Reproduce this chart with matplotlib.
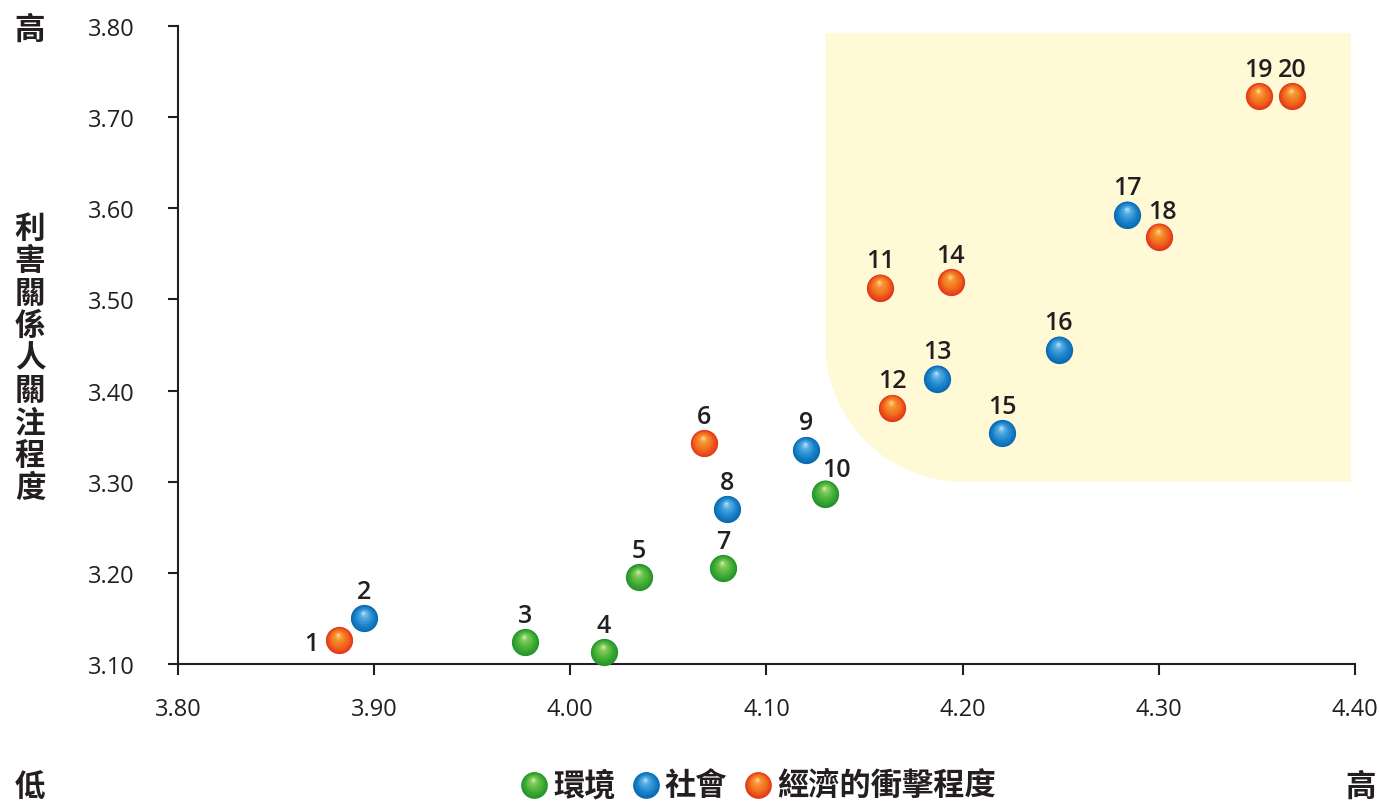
import numpy as np
import matplotlib
matplotlib.use('Agg')
import matplotlib.pyplot as plt
import matplotlib.transforms as mtransforms
from matplotlib.colors import LinearSegmentedColormap
from matplotlib.patches import Polygon

plt.rcParams['font.family'] = ['Open Sans', 'Noto Sans CJK TC', 'DejaVu Sans']

# issue number, impact (x) and stakeholder concern (y)
issue_ids = list(range(1, 21))
impact = [3.882, 3.895, 3.977, 4.017, 4.035, 4.068, 4.078, 4.080, 4.120, 4.130,
          4.158, 4.164, 4.187, 4.194, 4.220, 4.249, 4.284, 4.300, 4.351, 4.368]
concern = [3.126, 3.150, 3.124, 3.113, 3.195, 3.342, 3.205, 3.270, 3.335, 3.287,
           3.513, 3.381, 3.413, 3.519, 3.353, 3.445, 3.593, 3.569, 3.723, 3.723]
category = ['eco', 'soc', 'env', 'env', 'env', 'eco', 'env', 'soc', 'soc', 'env',
            'eco', 'eco', 'soc', 'eco', 'soc', 'soc', 'soc', 'eco', 'eco', 'eco']

x_ticks = [3.80, 3.90, 4.00, 4.10, 4.20, 4.30, 4.40]
y_ticks = [3.10, 3.20, 3.30, 3.40, 3.50, 3.60, 3.70, 3.80]

legend_keys = ['env', 'soc', 'eco']
legend_names = ['環境', '社會', '經濟的衝擊程度']
y_title = '利害關係人關注程度'

# edge -> body -> highlight colours for the glossy balls
palettes = {
    'env': ['#23922c', '#45b037', '#7cc957', '#bfe59c', '#eefbe4'],
    'soc': ['#0a69b0', '#1f88cf', '#58ace3', '#aad6f3', '#e6f5ff'],
    'eco': ['#e2361a', '#f26c1e', '#f7962f', '#fdca86', '#fff0d8'],
}
cmaps = {k: LinearSegmentedColormap.from_list(
    k, list(zip([0.0, 0.35, 0.72, 0.92, 1.0], v))) for k, v in palettes.items()}

TEXT = '#231f20'
DPI = 100
fig = plt.figure(figsize=(13.79, 8.03), dpi=DPI)
ax = fig.add_axes([178 / 1379, 1 - 665 / 803, 1177 / 1379, 638 / 803])


def draw_balls(axis, xs, ys, key, radius_pt=9.8, layers=22, zorder=4):
    cmap = cmaps[key]
    fx, fy = -0.08 * radius_pt, 0.45 * radius_pt
    for t in np.linspace(0, 0.96, layers):
        r = (1 - t) * radius_pt
        tr = mtransforms.offset_copy(axis.transData, fig=fig,
                                     x=t * fx, y=t * fy, units='points')
        axis.scatter(xs, ys, s=(2 * r) ** 2, color=cmap(t), linewidths=0,
                     transform=tr, zorder=zorder, clip_on=False)


# highlighted high-priority zone with a rounded lower-left corner
x0, x1, y0, y1 = 4.130, 4.398, 3.300, 3.792
rx, ry = 138 / 1961.7, 138 / 911.4
theta = np.linspace(np.pi, 1.5 * np.pi, 40)
arc = np.column_stack([x0 + rx + rx * np.cos(theta), y0 + ry + ry * np.sin(theta)])
zone = np.vstack([[x0, y1], arc, [x1, y0], [x1, y1]])
ax.add_patch(Polygon(zone, closed=True, facecolor='#fff9d6', edgecolor='none', zorder=0))

impact_a = np.array(impact)
concern_a = np.array(concern)
cat_a = np.array(category)
for key in legend_keys:
    m = cat_a == key
    draw_balls(ax, impact_a[m], concern_a[m], key)

# issue numbers above the balls
label_offsets = {1: (-28, -3), 10: (11, 24), 18: (4, 25)}
for i, xv, yv in zip(issue_ids, impact, concern):
    dx, dy = label_offsets.get(i, (0, 27))
    ax.annotate(str(i), (xv, yv), xytext=(dx * 0.72, dy * 0.72), textcoords='offset points',
                ha='center', va='center', fontsize=18, fontweight='semibold',
                color=TEXT, zorder=6)

ax.set_xlim(3.80, 4.40)
ax.set_ylim(3.10, 3.80)
ax.set_xticks(x_ticks)
ax.set_yticks(y_ticks)
ax.set_xticklabels([f'{v:.2f}' for v in x_ticks])
ax.set_yticklabels([f'{v:.2f}' for v in y_ticks])
ax.tick_params(axis='x', direction='out', length=8, width=1.5, pad=16,
               labelsize=17, colors=TEXT)
ax.tick_params(axis='y', direction='out', length=7, width=1.5, pad=24,
               labelsize=17, colors=TEXT)
for side in ['top', 'right']:
    ax.spines[side].set_visible(False)
for side in ['left', 'bottom']:
    ax.spines[side].set_color(TEXT)
    ax.spines[side].set_linewidth(1.5)
ax.set_facecolor('none')

# overlay in pixel units for the corner words, vertical title and legend
ov = fig.add_axes([0, 0, 1, 1])
ov.set_xlim(0, 1379)
ov.set_ylim(803, 0)
ov.axis('off')

cjk = dict(fontsize=22, fontweight='bold', color=TEXT, ha='center', va='center',
           family=['Noto Sans CJK TC', 'DejaVu Sans'])
ov.text(30, 30, '高', **cjk)
ov.text(30, 787, '低', **cjk)
ov.text(1361, 787, '高', **cjk)
for k, ch in enumerate(y_title):
    ov.text(30, 229 + k * 32.4, ch, **cjk)

legend_x = [534, 646, 758]
for key, name, lx in zip(legend_keys, legend_names, legend_x):
    draw_balls(ov, [lx], [786], key, radius_pt=9.6)
    ov.text(lx + 19, 786, name, fontsize=22.5, fontweight='bold', color=TEXT,
            ha='left', va='center', family=['Noto Sans CJK TC', 'DejaVu Sans'])

fig.savefig('out.png', dpi=DPI)
